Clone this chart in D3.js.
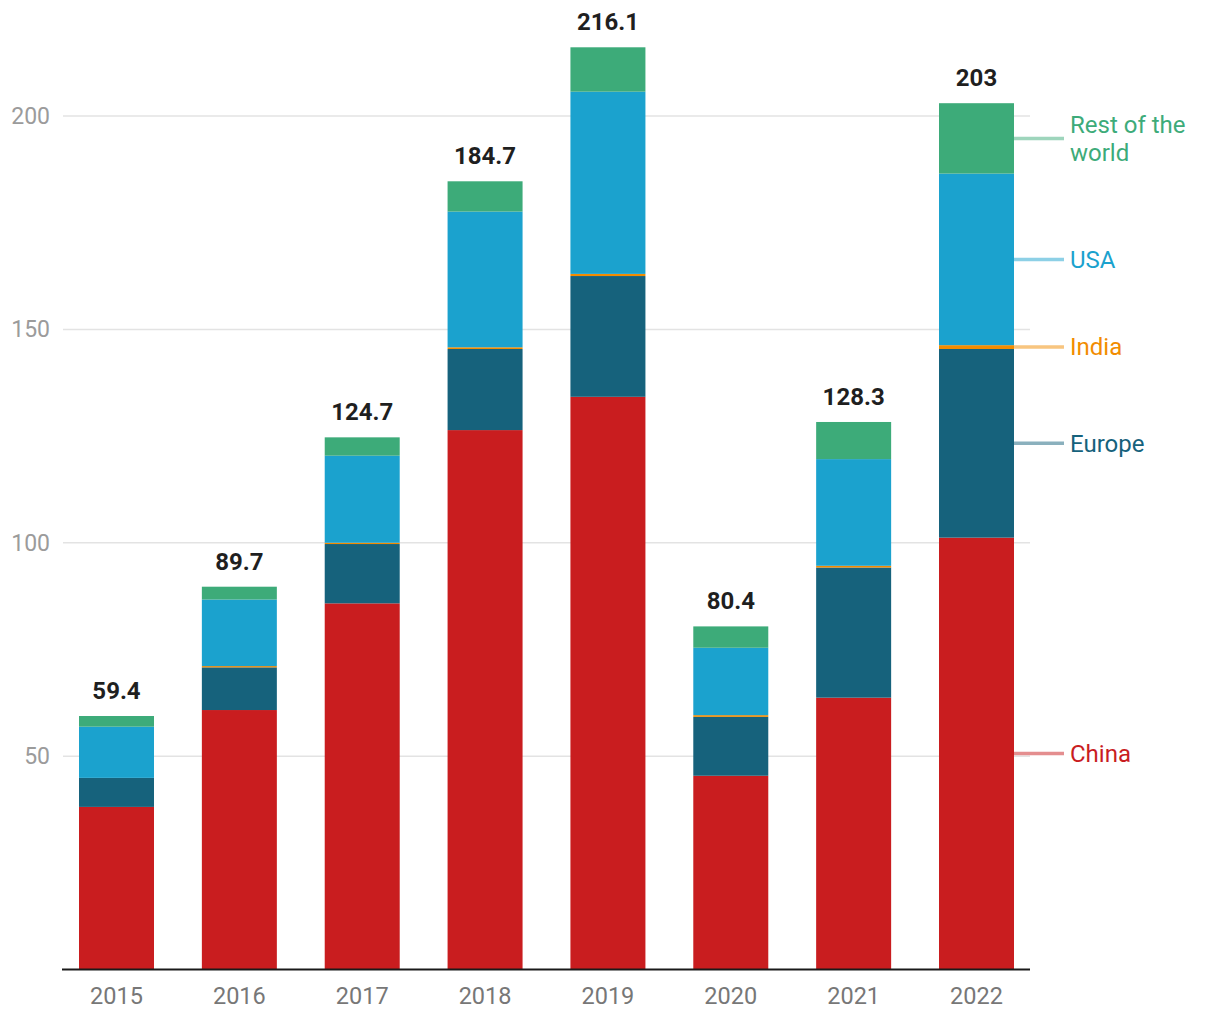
<!DOCTYPE html>
<html>
<head>
<meta charset="utf-8">
<script src="https://cdn.jsdelivr.net/npm/d3@7"></script>
<style>
  html, body { margin: 0; padding: 0; background: #fff; }
  svg { display: block; font-family: Roboto, "Noto Sans", sans-serif; }
</style>
</head>
<body>
<svg id="chart" width="1220" height="1020"></svg>
<script>
const years = ["2015", "2016", "2017", "2018", "2019", "2020", "2021", "2022"];
const seriesNames = ["China", "Europe", "India", "USA", "Rest of the world"];
const china  = [38.1, 60.8, 85.8, 126.4, 134.2, 45.4, 63.7, 101.2];
const europe = [6.8, 10.0, 13.9, 19.0, 28.3, 13.8, 30.5, 44.2];
const india  = [0.0, 0.3, 0.3, 0.4, 0.5, 0.4, 0.4, 0.9];
const usa    = [12.0, 15.6, 20.4, 31.8, 42.7, 15.8, 25.0, 40.2];
const totals = [59.4, 89.7, 124.7, 184.7, 216.1, 80.4, 128.3, 203];
const yTicks = [50, 100, 150, 200];
const colors = ["#c91d1f", "#16627c", "#f28c00", "#1ba2ce", "#3dab79"];

// Rest of world derived as the remainder to reach the labeled total
const rest = totals.map((t, i) => +(t - china[i] - europe[i] - india[i] - usa[i]).toFixed(2));
const seriesValues = [china, europe, india, usa, rest];

const rows = years.map((y, i) => {
  const r = { year: y };
  seriesNames.forEach((s, k) => r[s] = seriesValues[k][i]);
  return r;
});

const svg = d3.select("#chart");
const baseY = 969.5, topY = 116;
const y = d3.scaleLinear().domain([0, 200]).range([baseY, topY]);
const step = (976.5 - 116.5) / 7;
const x = d3.scaleBand().domain(years)
  .range([116.5 - step / 2, 976.5 + step / 2])
  .paddingInner(0.3896).paddingOuter(0.3896 / 2);

const gridLeft = 63, gridRight = 1030;

// grid lines
svg.append("g").selectAll("line").data(yTicks).join("line")
  .attr("x1", gridLeft).attr("x2", gridRight)
  .attr("y1", d => y(d)).attr("y2", d => y(d))
  .attr("stroke", "#e3e3e3").attr("stroke-width", 1.5);

// y tick labels
svg.append("g").selectAll("text").data(yTicks).join("text")
  .attr("x", 50).attr("y", d => y(d))
  .attr("dy", "0.35em").attr("text-anchor", "end")
  .attr("font-size", 23).attr("fill", "#9b9b9b")
  .text(d => d);

// stacked bars
const stack = d3.stack().keys(seriesNames)(rows);
svg.append("g").selectAll("g").data(stack).join("g")
  .attr("fill", (d, i) => colors[i])
  .selectAll("rect").data(d => d).join("rect")
  .attr("x", d => x(d.data.year))
  .attr("width", x.bandwidth())
  .attr("y", d => y(d[1]))
  .attr("height", d => Math.max(0, y(d[0]) - y(d[1])));

// baseline axis
svg.append("line")
  .attr("x1", 62).attr("x2", gridRight)
  .attr("y1", baseY).attr("y2", baseY)
  .attr("stroke", "#1a1a1a").attr("stroke-width", 2);

// x labels
svg.append("g").selectAll("text").data(years).join("text")
  .attr("x", d => x(d) + x.bandwidth() / 2)
  .attr("y", 996).attr("dy", "0.35em")
  .attr("text-anchor", "middle")
  .attr("font-size", 23.5).attr("fill", "#777")
  .text(d => d);

// totals
svg.append("g").selectAll("text").data(years).join("text")
  .attr("x", d => x(d) + x.bandwidth() / 2)
  .attr("y", (d, i) => y(totals[i]) - 17)
  .attr("text-anchor", "middle")
  .attr("font-size", 24).attr("font-weight", "bold").attr("fill", "#1f1f1f")
  .text((d, i) => totals[i]);

// legend labels next to the last bar
const lastIdx = years.length - 1;
const lastYear = years[lastIdx];
const barRight = x(lastYear) + x.bandwidth();
const legendG = svg.append("g");
stack.forEach((s, k) => {
  const d = s[lastIdx];
  const my = (y(d[0]) + y(d[1])) / 2;
  legendG.append("line")
    .attr("x1", barRight).attr("x2", barRight + 50)
    .attr("y1", my).attr("y2", my)
    .attr("stroke", colors[k]).attr("stroke-opacity", 0.5).attr("stroke-width", 3.5);
  const lines = seriesNames[k] === "Rest of the world" ? ["Rest of the", "world"] : [seriesNames[k]];
  const t = legendG.append("text")
    .attr("x", barRight + 56)
    .attr("font-size", 24).attr("fill", colors[k]);
  lines.forEach((ln, j) => {
    t.append("tspan")
      .attr("x", barRight + 56)
      .attr("y", my + (j - (lines.length - 1) / 2) * 28)
      .attr("dy", "0.35em")
      .text(ln);
  });
});
</script>
</body>
</html>
